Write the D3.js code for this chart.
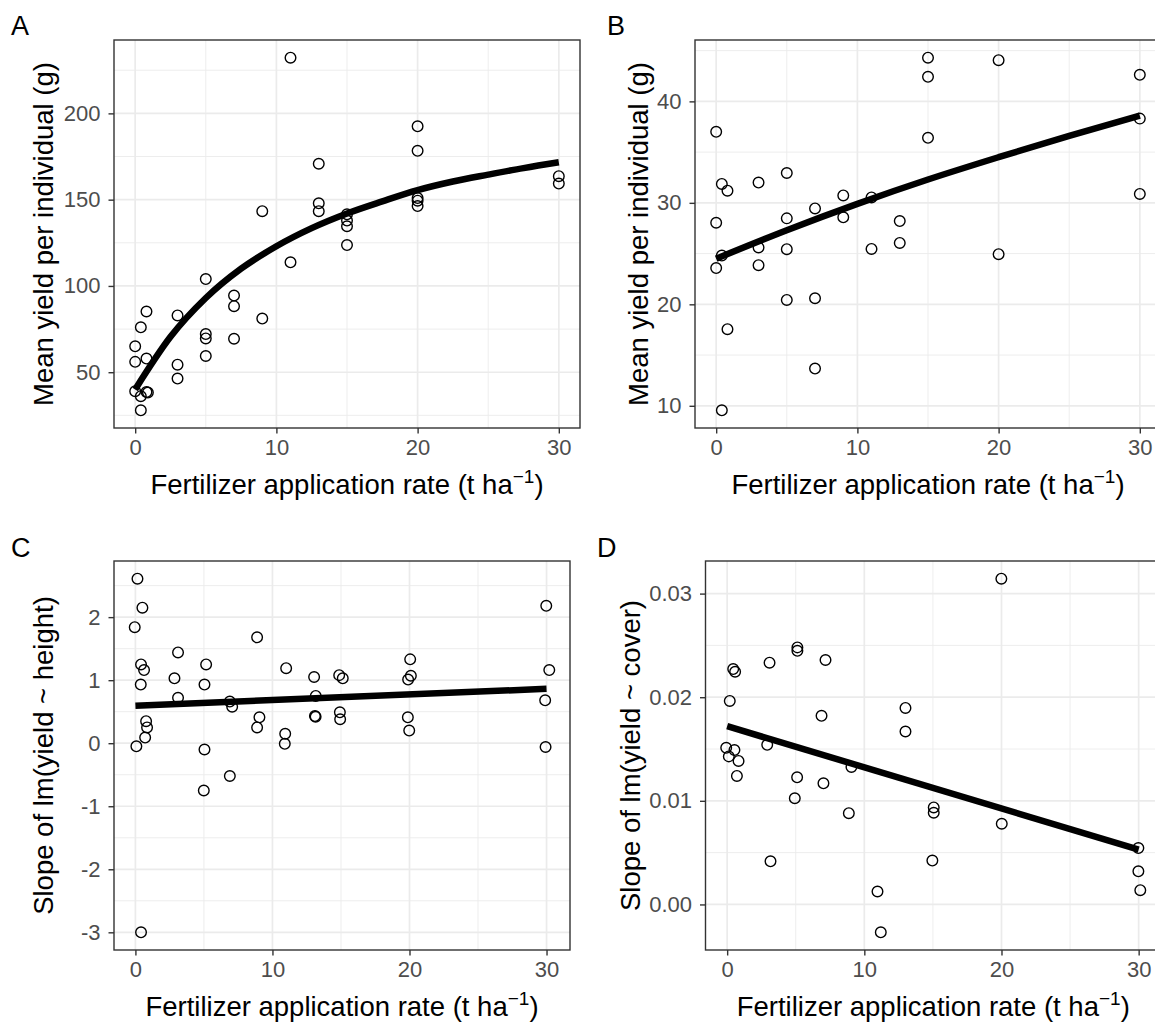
<!DOCTYPE html>
<html>
<head>
<meta charset="utf-8">
<script src="https://cdn.jsdelivr.net/npm/d3@7"></script>
<style>
  body { margin: 0; background: #fff; }
</style>
</head>
<body>
<svg id="fig" width="1155" height="1024"></svg>
<script>
// ---- Data ----------------------------------------------------------------
// Fertilizer application rate (t/ha) shared tick labels
const xTicks = [0, 10, 20, 30];
const xMinor = [5, 15, 25];

// Panel A: mean yield per individual (g)
const aRate  = [11.0, 13.0, 13.0, 13.0, 9.0, 11.0, 5.0, 7.0, 7.0, 9.0, 7.0, 5.0, 5.0, 5.0,
                3.0, 3.0, 3.0, 0.8, 0.4, 0.0, 0.0, 0.8, 0.0, 0.4, 0.8, 0.9, 0.4,
                15, 15, 15, 15, 20, 20, 20, 20, 20, 30, 30];
const aYield = [232.3, 170.8, 147.9, 143.3, 143.3, 113.7, 104.0, 94.4, 88.3, 81.1, 69.4, 72.1, 69.6, 59.4,
                82.9, 54.4, 46.3, 85.2, 76.0, 65.0, 56.0, 57.9, 39.0, 36.1, 38.5, 38.2, 27.9,
                141.5, 137.9, 134.6, 123.7, 192.5, 178.3, 150.9, 149.4, 146.3, 163.6, 159.3];
const aFitRate  = [0, 2.5, 5, 7.5, 10, 12.5, 15, 17.5, 20, 22.5, 25, 27.5, 30];
const aFitYield = [40, 70.5, 93, 110, 123, 133.5, 142, 149, 155.5, 160.5, 164.5, 168.3, 171.7];
const aTicks = [50, 100, 150, 200];
const aMinor = [25, 75, 125, 175, 225];

// Panel B: mean yield per individual (g)
const bRate  = [0, 0.4, 0.8, 3, 5, 0, 0.4, 0, 3, 3, 5, 5, 5, 7, 7, 7, 9, 9, 11, 11, 13, 13,
                0.8, 0.4, 15, 15, 15, 20, 20, 30, 30, 30];
const bYield = [37.0, 31.86, 31.2, 32.0, 32.94, 28.04, 24.8, 23.57, 25.6, 23.86, 28.47, 25.43, 20.43,
                29.45, 20.6, 13.67, 30.73, 28.57, 30.53, 25.46, 28.2, 26.05,
                17.55, 9.55, 44.31, 42.42, 36.41, 44.06, 24.94, 42.62, 38.3, 30.88];
const bFitRate  = [0, 5, 10, 15, 20, 25, 30];
const bFitYield = [24.5, 27.3, 29.9, 32.3, 34.5, 36.6, 38.6];
const bTicks = [10, 20, 30, 40];
const bMinor = [15, 25, 35, 45];

// Panel C: slope of lm(yield ~ height)
const cRate  = [0.15, 0.51, -0.05, 0.41, 0.63, 0.39, 0.78, 0.85, 0.71, 0.07, 0.41,
                3.11, 2.85, 3.11, 5.16, 5.04, 5.04, 4.99, 6.89, 7.06, 6.89,
                8.88, 9.05, 8.88, 11.0, 10.93, 10.9, 13.04, 13.16, 13.1, 13.15,
                14.87, 15.13, 14.92, 14.94, 20.05, 20.1, 19.9, 19.88, 19.98,
                29.98, 30.2, 29.9, 29.93];
const cSlope = [2.61, 2.15, 1.84, 1.25, 1.16, 0.93, 0.35, 0.25, 0.09, -0.05, -3.0,
                1.44, 1.03, 0.72, 1.25, 0.93, -0.10, -0.75, 0.66, 0.58, -0.52,
                1.68, 0.41, 0.25, 1.19, 0.15, -0.01, 1.05, 0.75, 0.43, 0.42,
                1.08, 1.03, 0.49, 0.38, 1.33, 1.07, 1.01, 0.41, 0.20,
                2.18, 1.16, 0.68, -0.06];
const cFitRate  = [0, 30];
const cFitSlope = [0.595, 0.863];
const cTicks = [-3, -2, -1, 0, 1, 2];
const cMinor = [-2.5, -1.5, -0.5, 0.5, 1.5, 2.5];

// Panel D: slope of lm(yield ~ cover)
const dRate  = [-0.07, 0.12, 0.53, 0.83, 0.71, 0.19, 0.44, 0.58,
                3.09, 2.92, 3.16, 5.12, 5.12, 5.1, 4.93, 7.17, 6.88, 7.02,
                8.87, 9.06, 10.96, 11.2, 13.0, 13.0,
                19.99, 15.06, 15.06, 14.96, 20.02, 29.98, 29.98, 30.12];
const dSlope = [0.01512, 0.01429, 0.01490, 0.01385, 0.01240, 0.01964, 0.02272, 0.02246,
                0.02333, 0.01541, 0.00416, 0.02481, 0.02448, 0.01227, 0.01025, 0.02359, 0.01820, 0.01169,
                0.00881, 0.01327, 0.00125, -0.00269, 0.01897, 0.01669,
                0.03144, 0.00936, 0.00885, 0.00423, 0.00779, 0.00544, 0.00320, 0.00138];
const dFitRate  = [0, 30];
const dFitSlope = [0.0172, 0.0053];
const dTicks = [0, 0.01, 0.02, 0.03];
const dMinor = [0.005, 0.015, 0.025];

// ---- Layout & style ------------------------------------------------------
const FONT = '"Liberation Sans", Arial, Helvetica, sans-serif';
const TITLE_SIZE = 27.5;
const TICK_SIZE = 22;
const svg = d3.select('#fig');
svg.append('rect').attr('width', 1155).attr('height', 1024).attr('fill', '#fff');

const panels = [
  { tag: 'A', tagX: 11, tagY: 35, rate: aRate, val: aYield, fitRate: aFitRate, fitVal: aFitYield,
    yTicks: aTicks, yMinor: aMinor, fmt: d => String(d), curve: d3.curveMonotoneX,
    ylab: 'Mean yield per individual (g)', ylabX: 53,
    box: { left: 114, right: 580, top: 40, bottom: 428 } },
  { tag: 'B', tagX: 607, tagY: 35, rate: bRate, val: bYield, fitRate: bFitRate, fitVal: bFitYield,
    yTicks: bTicks, yMinor: bMinor, fmt: d => String(d), curve: d3.curveMonotoneX,
    ylab: 'Mean yield per individual (g)', ylabX: 648,
    box: { left: 695, right: 1161, top: 40, bottom: 428 } },
  { tag: 'C', tagX: 11, tagY: 557, rate: cRate, val: cSlope, fitRate: cFitRate, fitVal: cFitSlope,
    yTicks: cTicks, yMinor: cMinor, fmt: d => String(d), curve: d3.curveLinear,
    ylab: 'Slope of lm(yield ~ height)', ylabX: 53,
    box: { left: 114, right: 570, top: 561, bottom: 950 } },
  { tag: 'D', tagX: 597, tagY: 557, rate: dRate, val: dSlope, fitRate: dFitRate, fitVal: dFitSlope,
    yTicks: dTicks, yMinor: dMinor, fmt: d3.format('.2f'), curve: d3.curveLinear,
    ylab: 'Slope of lm(yield ~ cover)', ylabX: 640,
    box: { left: 705.5, right: 1161, top: 561, bottom: 950 } }
];

function padded(values) {
  const [lo, hi] = d3.extent(values);
  const r = hi - lo;
  return [lo - 0.05 * r, hi + 0.05 * r];
}

panels.forEach((p, i) => {
  const b = p.box;
  const g = svg.append('g');
  const x = d3.scaleLinear().domain(padded(p.rate)).range([b.left, b.right]);
  const y = d3.scaleLinear().domain(padded(p.val)).range([b.bottom, b.top]);

  const clipId = 'clip' + i;
  svg.append('clipPath').attr('id', clipId)
    .append('rect').attr('x', b.left).attr('y', b.top)
    .attr('width', b.right - b.left).attr('height', b.bottom - b.top);

  const plot = g.append('g').attr('clip-path', `url(#${clipId})`);

  // grid: minor then major
  plot.selectAll('.vmin').data(xMinor).join('line')
    .attr('x1', d => x(d)).attr('x2', d => x(d)).attr('y1', b.top).attr('y2', b.bottom)
    .attr('stroke', '#EBEBEB').attr('stroke-width', 0.9);
  plot.selectAll('.hmin').data(p.yMinor).join('line')
    .attr('y1', d => y(d)).attr('y2', d => y(d)).attr('x1', b.left).attr('x2', b.right)
    .attr('stroke', '#EBEBEB').attr('stroke-width', 0.9);
  plot.selectAll('.vmaj').data(xTicks).join('line')
    .attr('x1', d => x(d)).attr('x2', d => x(d)).attr('y1', b.top).attr('y2', b.bottom)
    .attr('stroke', '#EBEBEB').attr('stroke-width', 1.7);
  plot.selectAll('.hmaj').data(p.yTicks).join('line')
    .attr('y1', d => y(d)).attr('y2', d => y(d)).attr('x1', b.left).attr('x2', b.right)
    .attr('stroke', '#EBEBEB').attr('stroke-width', 1.7);

  // observations
  plot.selectAll('circle').data(d3.zip(p.rate, p.val)).join('circle')
    .attr('cx', d => x(d[0])).attr('cy', d => y(d[1])).attr('r', 5.3)
    .attr('fill', 'none').attr('stroke', '#000').attr('stroke-width', 1.4);

  // fitted trend
  const line = d3.line().x(d => x(d[0])).y(d => y(d[1])).curve(p.curve);
  plot.append('path').datum(d3.zip(p.fitRate, p.fitVal))
    .attr('d', line).attr('fill', 'none').attr('stroke', '#000').attr('stroke-width', 6.5);

  // panel border
  g.append('rect').attr('x', b.left).attr('y', b.top)
    .attr('width', b.right - b.left).attr('height', b.bottom - b.top)
    .attr('fill', 'none').attr('stroke', '#333').attr('stroke-width', 1.4);

  // axes
  const styleAxis = a => {
    a.attr('font-family', FONT).attr('font-size', TICK_SIZE);
    a.select('.domain').remove();
    a.selectAll('.tick line').attr('stroke', '#333').attr('stroke-width', 1.4);
    a.selectAll('.tick text').attr('fill', '#4D4D4D');
  };
  g.append('g').attr('transform', `translate(0,${b.bottom})`)
    .call(d3.axisBottom(x).tickValues(xTicks).tickSize(5.5).tickPadding(6).tickSizeOuter(0))
    .call(styleAxis);
  g.append('g').attr('transform', `translate(${b.left},0)`)
    .call(d3.axisLeft(y).tickValues(p.yTicks).tickFormat(p.fmt).tickSize(5.5).tickPadding(8).tickSizeOuter(0))
    .call(styleAxis);

  // axis titles
  const xt = g.append('text')
    .attr('x', (b.left + b.right) / 2).attr('y', b.bottom + 66)
    .attr('text-anchor', 'middle').attr('font-family', FONT).attr('font-size', TITLE_SIZE).attr('fill', '#000');
  xt.append('tspan').text('Fertilizer application rate (t ha');
  xt.append('tspan').attr('dy', -11).attr('font-size', 19).text('\u22121');
  xt.append('tspan').attr('dy', 11).text(')');

  g.append('text')
    .attr('transform', `translate(${p.ylabX},${(b.top + b.bottom) / 2}) rotate(-90)`)
    .attr('text-anchor', 'middle').attr('font-family', FONT).attr('font-size', TITLE_SIZE).attr('fill', '#000')
    .text(p.ylab);

  // panel tag
  svg.append('text').attr('x', p.tagX).attr('y', p.tagY)
    .attr('font-family', FONT).attr('font-size', 27).attr('fill', '#000').text(p.tag);
});
</script>
</body>
</html>
